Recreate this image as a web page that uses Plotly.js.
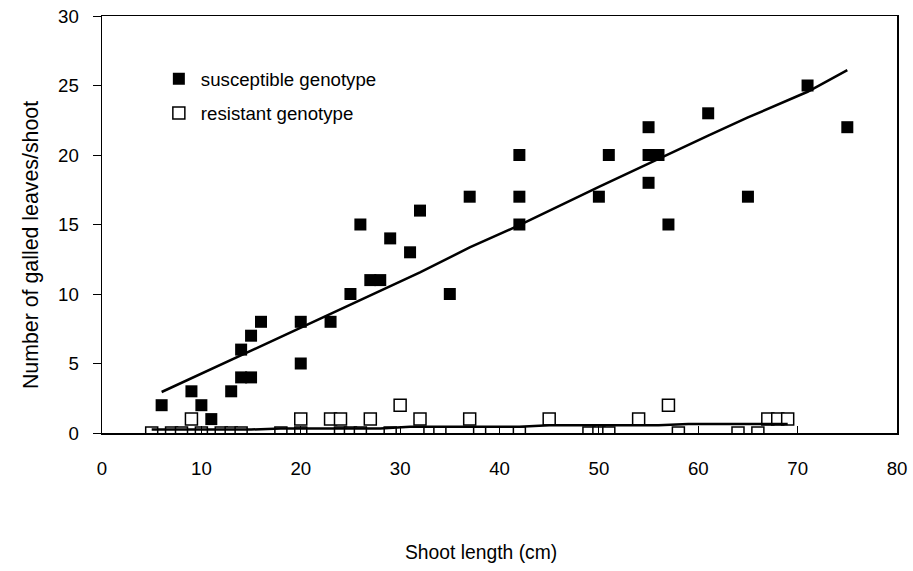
<!DOCTYPE html>
<html>
<head>
<meta charset="utf-8">
<script src="https://cdn.plot.ly/plotly-3.0.1.min.js"></script>
<style>html,body{margin:0;padding:0;background:#fff;}#chart{width:913px;height:571px;}</style>
</head>
<body>
<div id="chart"></div>
<script>
// Susceptible genotype observations
const suscX = [6, 9, 10, 11, 13, 14, 14, 15, 15, 16, 20, 20, 23, 25, 26, 27, 28, 29, 31, 32, 35, 37, 42, 42, 42, 50, 51, 55, 55, 55, 56, 57, 61, 65, 71, 75];
const suscY = [2, 3, 2, 1, 3, 6, 4, 7, 4, 8, 8, 5, 8, 10, 15, 11, 11, 14, 13, 16, 10, 17, 20, 17, 15, 17, 20, 22, 20, 18, 20, 15, 23, 17, 25, 22];
// Resistant genotype observations
const resX = [5, 7, 8, 10, 12, 13, 14, 18, 20, 24, 25, 26, 29, 33, 34, 38, 42, 49, 50, 51, 58, 64, 66,
              9, 20, 23, 24, 27, 32, 37, 45, 54, 67, 68, 69, 30, 57];
const resY = [0, 0, 0, 0, 0, 0, 0, 0, 0, 0, 0, 0, 0, 0, 0, 0, 0, 0, 0, 0, 0, 0, 0,
              1, 1, 1, 1, 1, 1, 1, 1, 1, 1, 1, 1, 2, 2];
// Fitted lines
const suscFitX = [6, 14, 20, 26, 32, 37, 42, 50, 55, 61, 65, 71, 75];
const suscFitY = [2.95, 5.6, 7.6, 9.6, 11.55, 13.35, 14.95, 17.7, 19.4, 21.4, 22.7, 24.55, 26.1];
const resFitX = [5, 15, 18, 28, 31, 42, 45, 56, 59, 69];
const resFitY = [0.25, 0.25, 0.33, 0.33, 0.45, 0.45, 0.55, 0.55, 0.65, 0.65];
// Labels
const seriesNames = ["susceptible genotype", "resistant genotype"];
const xTitle = "Shoot length (cm)";
const yTitle = "Number of galled leaves/shoot";
const xTicks = [0, 10, 20, 30, 40, 50, 60, 70, 80];
const yTicks = [0, 5, 10, 15, 20, 25, 30];

const FONT = "Liberation Sans, Arial, sans-serif";
const FS = 18.67;

const traces = [
  {x: suscX, y: suscY, mode: "markers", type: "scatter", name: seriesNames[0],
   marker: {symbol: "square", size: 12, color: "#000"}, legendgroup: "a"},
  {x: resX, y: resY, mode: "markers", type: "scatter", name: seriesNames[1],
   marker: {symbol: "square", size: 12, color: "#fff", line: {color: "#000", width: 1.5}}, legendgroup: "b"},
  {x: suscFitX, y: suscFitY, mode: "lines", type: "scatter", showlegend: false,
   line: {color: "#000", width: 2.5}},
  {x: resFitX, y: resFitY, mode: "lines", type: "scatter", showlegend: false,
   line: {color: "#000", width: 2.5, shape: "linear"}}
];

const layout = {
  width: 913, height: 571,
  paper_bgcolor: "#fff", plot_bgcolor: "#fff",
  margin: {l: 102, r: 15.5, t: 16, b: 138, pad: 0},
  font: {family: FONT, size: FS, color: "#000"},
  showlegend: true,
  legend: {x: 0.069, y: 0.894, xanchor: "left", yanchor: "top", itemwidth: 34,
           font: {family: FONT, size: FS, color: "#000"},
           bgcolor: "rgba(0,0,0,0)", tracegroupgap: 7, traceorder: "grouped"},
  xaxis: {range: [0, 80], tickvals: xTicks, ticktext: xTicks.map(String),
          ticks: "inside", ticklen: 7, tickwidth: 1, tickcolor: "#000",
          showline: true, linecolor: "#000", linewidth: 1.5, mirror: true,
          showgrid: false, zeroline: false, ticklabelstandoff: 18,
          tickfont: {family: FONT, size: FS, color: "#000"}},
  yaxis: {range: [0, 30], tickvals: yTicks, ticktext: yTicks.map(String),
          ticks: "outside", ticklen: 8, tickwidth: 1, tickcolor: "#000",
          showline: true, linecolor: "#000", linewidth: 1.5, mirror: true,
          showgrid: false, zeroline: false, ticklabelstandoff: 10,
          tickfont: {family: FONT, size: FS, color: "#000"}},
  annotations: [
    {text: xTitle, xref: "paper", yref: "paper", x: (481 - 102) / 795.5, y: -(552 - 433) / 417,
     xanchor: "center", yanchor: "middle", showarrow: false,
     font: {family: FONT, size: 19.3, color: "#000"}},
    {text: yTitle, xref: "paper", yref: "paper", x: -(102 - 31) / 795.5, y: (433 - 245) / 417,
     xanchor: "center", yanchor: "middle", showarrow: false, textangle: -90,
     font: {family: FONT, size: 21.33, color: "#000"}}
  ]
};

Plotly.newPlot("chart", traces, layout, {displayModeBar: false, staticPlot: true});
</script>
</body>
</html>
